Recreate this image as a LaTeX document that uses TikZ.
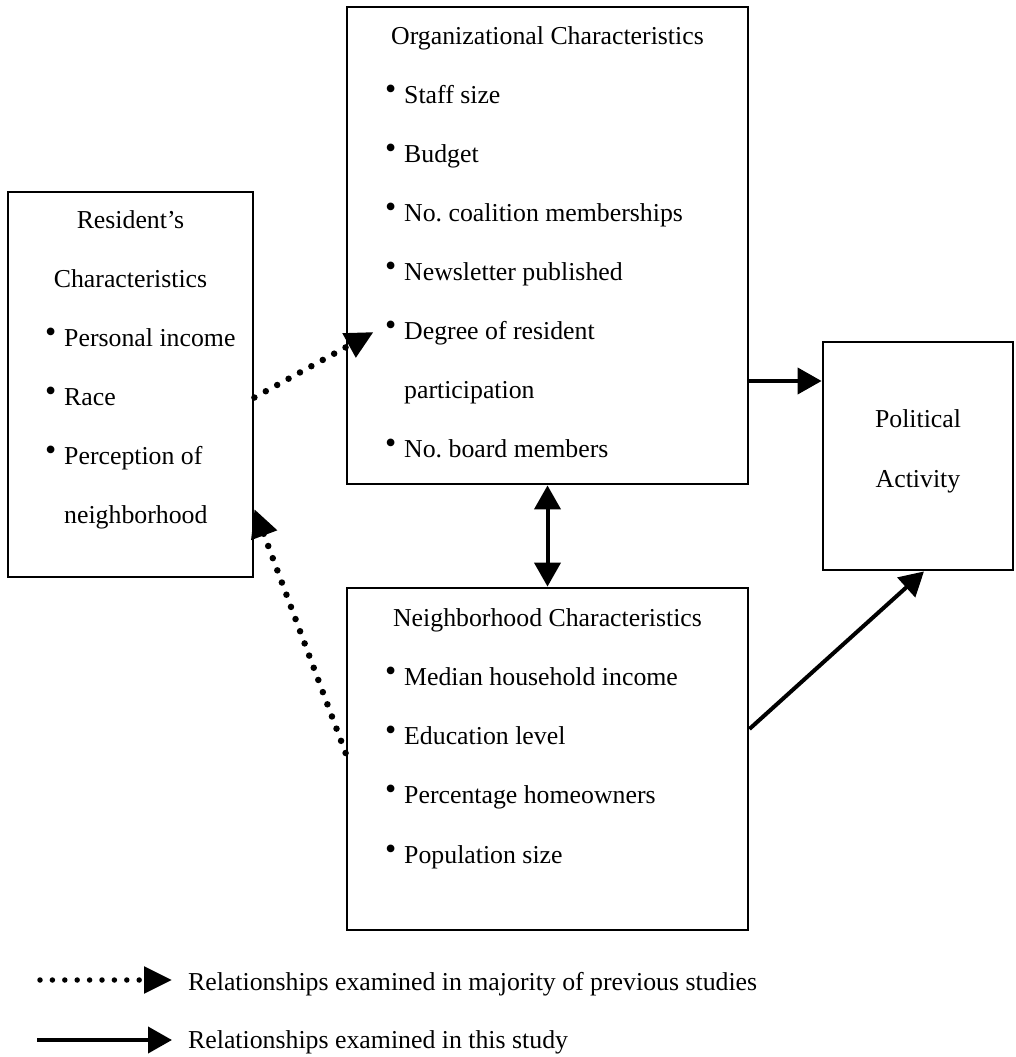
\documentclass[tikz,border=0pt]{standalone}
\usepackage{fontspec}
\setmainfont{Liberation Serif}
\usetikzlibrary{arrows.meta}
\newcommand{\bul}{\makebox[19pt][l]{\raisebox{4pt}{\fontsize{32}{32}\selectfont\textbullet}}}
\frenchspacing

\begin{document}
\begin{tikzpicture}[x=1pt, y=-1pt,
  every node/.style={font=\fontsize{25.8}{31}\selectfont},
  box/.style={rectangle, draw, line width=2.8pt, inner sep=0pt},
  item/.style={anchor=base west, inner sep=0pt},
  head/.style={anchor=base, inner sep=0pt},
  arrow/.style={-{Triangle[length=24pt, width=26pt]}, line width=4pt},
  dotarrow/.style={-{Triangle[length=28pt, width=26pt]}, line width=6.5pt,
                   dash pattern=on 0pt off 13pt, line cap=round}
]
  \useasboundingbox (0,0) rectangle (1016,1057);

  % boxes
  \node[box, minimum width=245pt, minimum height=385pt] (res) at (130.5,384.5) {};
  \node[box, minimum width=401pt, minimum height=477pt] (org) at (547.5,245.5) {};
  \node[box, minimum width=401pt, minimum height=342pt] (nbh) at (547.5,759) {};
  \node[box, minimum width=190pt, minimum height=228pt] (pol) at (918,456) {};

  % resident
  \node[head] (res-h1) at (130.5,228) {Resident’s};
  \node[head] (res-h2) at (130.5,287) {Characteristics};
  \node[item] (res-1) at (45,346) {\bul Personal income};
  \node[item] (res-2) at (45,405) {\bul Race};
  \node[item] (res-3) at (45,464) {\bul Perception of};
  \node[item] (res-3b) at (64,523) {neighborhood};

  % organization
  \node[head] (org-h) at (547.5,45) {Organizational Characteristics};
  \node[item] (org-1) at (385,103) {\bul Staff size};
  \node[item] (org-2) at (385,162) {\bul Budget};
  \node[item] (org-3) at (385,221) {\bul No. coalition memberships};
  \node[item] (org-4) at (385,280) {\bul Newsletter published};
  \node[item] (org-5) at (385,339) {\bul Degree of resident};
  \node[item] (org-5b) at (404,398) {participation};
  \node[item] (org-6) at (385,457) {\bul No. board members};

  % neighborhood
  \node[head] (nbh-h) at (547.5,626) {Neighborhood Characteristics};
  \node[item] (nbh-1) at (385,685) {\bul Median household income};
  \node[item] (nbh-2) at (385,744) {\bul Education level};
  \node[item] (nbh-3) at (385,803) {\bul Percentage homeowners};
  \node[item] (nbh-4) at (385,863) {\bul Population size};

  % outcome
  \node[head] (pol-h1) at (918,427) {Political};
  \node[head] (pol-h2) at (918,487) {Activity};

  % relationships
  \draw[dotarrow] ([yshift=-13pt]res.east) -- ([xshift=28pt,yshift=-86.5pt]org.west);
  \draw[dotarrow] ([yshift=6pt]nbh.west) -- ([yshift=-124.5pt]res.east);
  \draw[arrow] ([yshift=-135.5pt]org.east) -- ([yshift=-135.5pt]org.east -| pol.west);
  \draw[arrow, {Triangle[length=24pt, width=26pt]}-{Triangle[length=24pt, width=26pt]}]
    (org.south) -- (org.south |- nbh.north);
  \draw[arrow] ([yshift=30pt]nbh.east) -- ([xshift=6pt]pol.south);

  % legend
  \coordinate (dot-a) at (40,980);
  \coordinate (dot-b) at (172,980);
  \coordinate (sol-a) at (37,1040);
  \coordinate (sol-b) at (172,1040);
  \draw[dotarrow, line width=5.5pt, dash pattern=on 0pt off 12.4pt] (dot-a) -- (dot-b);
  \draw[arrow] (sol-a) -- (sol-b);
  \node[item] (key-1) at (188,990) {Relationships examined in majority of previous studies};
  \node[item] (key-2) at (188,1048) {Relationships examined in this study};
\end{tikzpicture}
\end{document}
